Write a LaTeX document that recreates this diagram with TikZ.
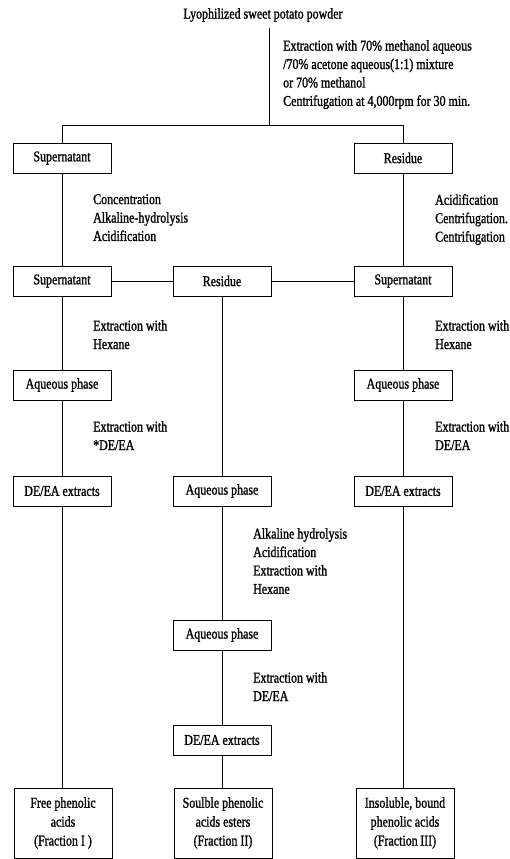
\documentclass[tikz,border=0pt]{standalone}
\usepackage{fontspec}
\setmainfont[FakeStretch=0.8,FakeBold=1.2]{Liberation Serif}
\usetikzlibrary{positioning}
\tikzset{
	stepnode/.style={
			rectangle,
			draw=black,
			line width=0.8bp,
			minimum width=98bp,
			minimum height=30bp,
			inner sep=0pt,
			font=\fontsize{15}{17}\selectfont
		},
	fracnode/.style={
			stepnode,
			minimum height=70bp,
			align=center,
			font=\fontsize{15}{19}\selectfont
		},
	notenode/.style={
			anchor=north west,
			inner sep=0pt,
			align=left,
			font=\fontsize{15}{18.5}\selectfont
		},
	link/.style={
			line width=0.8bp
		}
}

\begin{document}
\begin{tikzpicture}[x=1bp, y=-1bp]
\useasboundingbox (0,0) rectangle (510,859);
\node[inner sep=0pt, font=\fontsize{15}{17}\selectfont] (powder) at (263,15) {Lyophilized sweet potato powder};
\coordinate (split) at (269,125);
\coordinate (jl) at (62,125);
\coordinate (jr) at (403,125);

% first split
\node[stepnode] (s1) at (62,158)  {Supernatant};
\node[stepnode] (r1) at (403,158)  {Residue};

% second row
\node[stepnode] (s2) at (62,281)  {Supernatant};
\node[stepnode] (r2) at (222,281)  {Residue};
\node[stepnode] (s3) at (403,281)  {Supernatant};

\node[stepnode] (a1) at (62,385)  {Aqueous phase};
\node[stepnode] (a3) at (403,385)  {Aqueous phase};

\node[stepnode] (d1) at (62,491)  {DE/EA extracts};
\node[stepnode] (a2) at (222,491)  {Aqueous phase};
\node[stepnode] (d3) at (403,491)  {DE/EA extracts};

\node[stepnode] (a4) at (222,635)  {Aqueous phase};
\node[stepnode] (d2) at (222,740)  {DE/EA extracts};

% fractions
\node[fracnode] (f1) at (63,823)  {Free phenolic\\acids\\(Fraction I )};
\node[fracnode] (f2) at (223,823)  {Soulble phenolic\\acids esters\\(Fraction II)};
\node[fracnode] (f3) at (405,823)  {Insoluble, bound\\phenolic acids\\(Fraction\,III)};

% treatments
\node[notenode] (t0) at (283,40) {Extraction with 70\% methanol aqueous\\/70\% acetone aqueous(1:1) mixture\\or 70\% methanol\\Centrifugation at 4,000rpm for 30 min.};
\node[notenode] (t1) at (93,194) {Concentration\\Alkaline-hydrolysis\\Acidification};
\node[notenode] (t2) at (435,194) {Acidification\\Centrifugation.\\Centrifugation};
\node[notenode] (t3) at (93,320) {Extraction with\\Hexane};
\node[notenode] (t4) at (435,320) {Extraction with\\Hexane};
\node[notenode] (t5) at (93,421) {Extraction with\\*DE/EA};
\node[notenode] (t6) at (435,421) {Extraction with\\DE/EA};
\node[notenode] (t7) at (253,528) {Alkaline hydrolysis\\Acidification\\Extraction with\\Hexane};
\node[notenode] (t8) at (253,672) {Extraction with\\DE/EA};

\draw[link] (split |- powder.south) ++(0,6) -- (split);
\draw[link] (s1) -- (jl) -- (jr) -- (r1);

\draw[link] (s1) -- (s2);
\draw[link] (s2) -- (a1);
\draw[link] (a1) -- (d1);
\draw[link] (d1) -- (d1 |- f1.north);

\draw[link] (s2) -- (r2);
\draw[link] (r2) -- (s3);
\draw[link] (r2) -- (a2);
\draw[link] (a2) -- (a4);
\draw[link] (a4) -- (d2);
\draw[link] (d2) -- (d2 |- f2.north);

\draw[link] (r1) -- (s3);
\draw[link] (s3) -- (a3);
\draw[link] (a3) -- (d3);
\draw[link] (d3) -- (d3 |- f3.north);

\end{tikzpicture}
\end{document}
